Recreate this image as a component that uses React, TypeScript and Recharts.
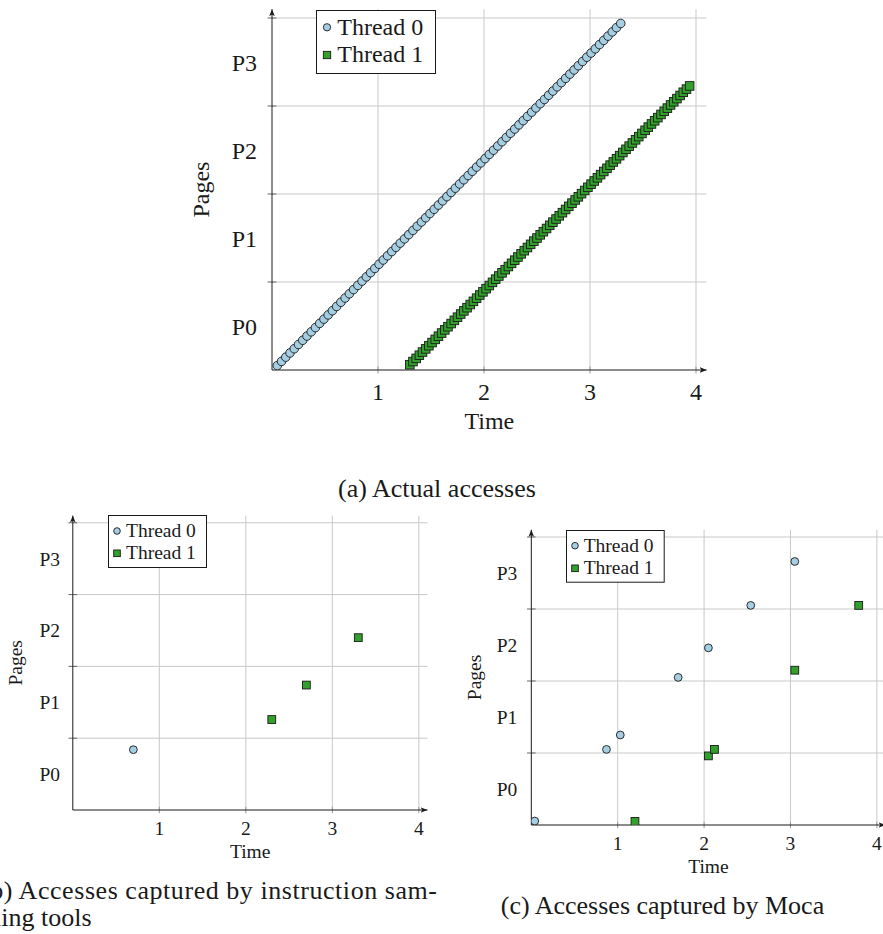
import React from 'react';
import {
  ScatterChart,
  Scatter,
  XAxis,
  YAxis,
  CartesianGrid,
  ReferenceLine,
  Legend,
} from 'recharts';

const FONT = 'Liberation Serif, DejaVu Serif, serif';
const INK = '#1a1a1a';
const BLUE = '#a6cee3';
const GREEN = '#33a02c';

const seriesNames = ['Thread 0', 'Thread 1'];
const pageLabels = ['P0', 'P1', 'P2', 'P3'];
const pageTicks = [0.5, 1.5, 2.5, 3.5];
const timeTicks = [1, 2, 3, 4];
const gridValues = [1, 2, 3, 4];

// (a) actual accesses
const actualT0Time = [
  0.05, 0.09, 0.13, 0.17, 0.21, 0.25, 0.29, 0.33, 0.37, 0.41,
  0.45, 0.49, 0.53, 0.57, 0.61, 0.65, 0.69, 0.73, 0.77, 0.81,
  0.85, 0.89, 0.93, 0.97, 1.01, 1.05, 1.09, 1.13, 1.17, 1.21,
  1.25, 1.29, 1.33, 1.37, 1.41, 1.45, 1.49, 1.53, 1.57, 1.61,
  1.65, 1.69, 1.73, 1.77, 1.81, 1.85, 1.89, 1.93, 1.97, 2.01,
  2.05, 2.09, 2.13, 2.17, 2.21, 2.25, 2.29, 2.33, 2.37, 2.41,
  2.45, 2.49, 2.53, 2.57, 2.61, 2.65, 2.69, 2.73, 2.77, 2.81,
  2.85, 2.89, 2.93, 2.97, 3.01, 3.05, 3.09, 3.13, 3.17, 3.21,
  3.25, 3.29,
];
const actualT0Page = [
  0.05, 0.098, 0.146, 0.194, 0.242, 0.29, 0.338, 0.386, 0.434, 0.482,
  0.53, 0.578, 0.626, 0.674, 0.722, 0.77, 0.818, 0.866, 0.914, 0.962,
  1.01, 1.058, 1.106, 1.154, 1.202, 1.25, 1.298, 1.346, 1.394, 1.442,
  1.49, 1.538, 1.586, 1.634, 1.682, 1.73, 1.778, 1.826, 1.874, 1.922,
  1.97, 2.018, 2.066, 2.114, 2.162, 2.21, 2.258, 2.306, 2.354, 2.402,
  2.45, 2.498, 2.546, 2.594, 2.642, 2.69, 2.738, 2.786, 2.834, 2.882,
  2.93, 2.978, 3.026, 3.074, 3.122, 3.17, 3.218, 3.266, 3.314, 3.362,
  3.41, 3.458, 3.506, 3.554, 3.602, 3.65, 3.698, 3.746, 3.794, 3.842,
  3.89, 3.938,
];
const actualT1Time = [
  1.3, 1.33, 1.36, 1.39, 1.42, 1.45, 1.48, 1.51, 1.54, 1.57,
  1.6, 1.63, 1.66, 1.69, 1.72, 1.75, 1.78, 1.81, 1.84, 1.87,
  1.9, 1.93, 1.96, 1.99, 2.02, 2.05, 2.08, 2.11, 2.14, 2.17,
  2.2, 2.23, 2.26, 2.29, 2.32, 2.35, 2.38, 2.41, 2.44, 2.47,
  2.5, 2.53, 2.56, 2.59, 2.62, 2.65, 2.68, 2.71, 2.74, 2.77,
  2.8, 2.83, 2.86, 2.89, 2.92, 2.95, 2.98, 3.01, 3.04, 3.07,
  3.1, 3.13, 3.16, 3.19, 3.22, 3.25, 3.28, 3.31, 3.34, 3.37,
  3.4, 3.43, 3.46, 3.49, 3.52, 3.55, 3.58, 3.61, 3.64, 3.67,
  3.7, 3.73, 3.76, 3.79, 3.82, 3.85, 3.88, 3.91, 3.94,
];
const actualT1Page = [
  0.06, 0.096, 0.132, 0.168, 0.204, 0.24, 0.276, 0.312, 0.348, 0.384,
  0.42, 0.456, 0.492, 0.528, 0.564, 0.6, 0.636, 0.672, 0.708, 0.744,
  0.78, 0.816, 0.852, 0.888, 0.924, 0.96, 0.996, 1.032, 1.068, 1.104,
  1.14, 1.176, 1.212, 1.248, 1.284, 1.32, 1.356, 1.392, 1.428, 1.464,
  1.5, 1.536, 1.572, 1.608, 1.644, 1.68, 1.716, 1.752, 1.788, 1.824,
  1.86, 1.896, 1.932, 1.968, 2.004, 2.04, 2.076, 2.112, 2.148, 2.184,
  2.22, 2.256, 2.292, 2.328, 2.364, 2.4, 2.436, 2.472, 2.508, 2.544,
  2.58, 2.616, 2.652, 2.688, 2.724, 2.76, 2.796, 2.832, 2.868, 2.904,
  2.94, 2.976, 3.012, 3.048, 3.084, 3.12, 3.156, 3.192, 3.228,
];

// (b) instruction sampling
const samplingT0Time = [0.7];
const samplingT0Page = [0.84];
const samplingT1Time = [2.3, 2.7, 3.3];
const samplingT1Page = [1.26, 1.74, 2.4];

// (c) Moca
const mocaT0Time = [0.04, 0.87, 1.03, 1.7, 2.05, 2.54, 3.05];
const mocaT0Page = [0.055, 1.05, 1.25, 2.05, 2.46, 3.05, 3.66];
const mocaT1Time = [1.2, 2.05, 2.12, 3.05, 3.79];
const mocaT1Page = [0.05, 0.96, 1.05, 2.15, 3.05];

const zip = (xs: number[], ys: number[]) => xs.map((x, i) => ({ x, y: ys[i] }));

type Pt = { x: number; y: number };
type Panel = {
  id: string;
  left: number;
  top: number;
  width: number;
  height: number;
  margin: { top: number; right: number; bottom: number; left: number };
  yAxisWidth: number;
  fs: number;
  r: number;
  xTickMargin: number;
  yTickMargin: number;
  timeDy: number;
  pagesDx: number;
  tickX: number; // half length of y-axis tick marks, in time units
  tickY: number; // half length of x-axis tick marks, in page units
  legend: { left: number; top: number; width: number; height: number; mx: number; rows: number[]; tx: number };
  t0: Pt[];
  t1: Pt[];
};

const panels: Panel[] = [
  {
    id: 'a',
    left: 0, top: 0, width: 883, height: 470,
    margin: { top: 9.2, right: 176.4, bottom: 70, left: 0 },
    yAxisWidth: 272,
    fs: 24, r: 4.3,
    xTickMargin: 6.8, yTickMargin: 9,
    timeDy: 59, pagesDx: 63,
    tickX: 0.042, tickY: 0.04,
    legend: { left: 316, top: 10, width: 120, height: 64, mx: 11, rows: [17.3, 45], tx: 21.3 },
    t0: zip(actualT0Time, actualT0Page),
    t1: zip(actualT1Time, actualT1Page),
  },
  {
    id: 'b',
    left: 0, top: 500, width: 440, height: 380,
    margin: { top: 15.6, right: 12.5, bottom: 40, left: 0 },
    yAxisWidth: 72.8,
    fs: 19.5, r: 3.9,
    xTickMargin: 4.7, yTickMargin: 6.8,
    timeDy: 48, pagesDx: 50.6,
    tickX: 0.05, tickY: 0.045,
    legend: { left: 108, top: 15.3, width: 99, height: 53, mx: 9, rows: [16, 38.3], tx: 18 },
    t0: zip(samplingT0Time, samplingT0Page),
    t1: zip(samplingT1Time, samplingT1Page),
  },
  {
    id: 'c',
    left: 440, top: 500, width: 450, height: 400,
    margin: { top: 29.8, right: 4.5, bottom: 45, left: 0 },
    yAxisWidth: 91.3,
    fs: 19.5, r: 3.9,
    xTickMargin: 4.7, yTickMargin: 8,
    timeDy: 47.5, pagesDx: 50.1,
    tickX: 0.05, tickY: 0.045,
    legend: { left: 126.3, top: 30, width: 98.7, height: 52.7, mx: 9, rows: [15.7, 38.3], tx: 17.7 },
    t0: zip(mocaT0Time, mocaT0Page),
    t1: zip(mocaT1Time, mocaT1Page),
  },
];

const circleShape = (r: number) => (p: any) => (
  <circle cx={p.cx} cy={p.cy} r={r} fill={BLUE} stroke={INK} strokeWidth={0.9} />
);
const squareShape = (r: number) => (p: any) => (
  <rect x={p.cx - r} y={p.cy - r} width={2 * r} height={2 * r} fill={GREEN} stroke={INK} strokeWidth={0.9} />
);

function LegendBox({ cfg }: { cfg: Panel }) {
  const lg = cfg.legend;
  return (
    <svg width={lg.width} height={lg.height} style={{ display: 'block' }}>
      <rect x={0.5} y={0.5} width={lg.width - 1} height={lg.height - 1} fill="#fff" stroke={INK} strokeWidth={1} />
      {seriesNames.map((name, i) => {
        const cy = lg.rows[i];
        return (
          <g key={name}>
            {i === 0 ? circleShape(cfg.r * 0.85)({ cx: lg.mx, cy }) : squareShape(cfg.r * 0.85)({ cx: lg.mx, cy })}
            <text x={lg.tx} y={cy + cfg.fs * 0.31} style={{ fontFamily: FONT }} fontSize={cfg.fs} fill={INK}>
              {name}
            </text>
          </g>
        );
      })}
    </svg>
  );
}

function AccessChart({ cfg }: { cfg: Panel }) {
  const arrow = `arrow-${cfg.id}`;
  const tickStyle = { fill: INK, fontSize: cfg.fs, style: { fontFamily: FONT } };

  const timeLabel = (props: any) => {
    const vb = props.viewBox;
    return (
      <text x={vb.x + vb.width / 2} y={vb.y + cfg.timeDy} textAnchor="middle" style={{ fontFamily: FONT }} fontSize={cfg.fs} fill={INK}>
        Time
      </text>
    );
  };
  const pagesLabel = (props: any) => {
    const vb = props.viewBox;
    const x = vb.x + vb.width - cfg.pagesDx;
    const y = vb.y + vb.height / 2;
    return (
      <text x={x} y={y} transform={`rotate(-90, ${x}, ${y})`} textAnchor="middle" style={{ fontFamily: FONT }} fontSize={cfg.fs} fill={INK}>
        Pages
      </text>
    );
  };

  return (
    <div style={{ position: 'absolute', left: cfg.left, top: cfg.top, fontFamily: FONT }}>
      <ScatterChart width={cfg.width} height={cfg.height} margin={cfg.margin} style={{ fontFamily: FONT }}>
        <defs>
          <marker
            id={arrow}
            viewBox="0 0 10 10"
            refX="10"
            refY="5"
            markerWidth={7}
            markerHeight={7}
            markerUnits="userSpaceOnUse"
            orient="auto-start-reverse"
          >
            <path d="M0,1 L10,5 L0,9 L2.5,5 z" fill={INK} />
          </marker>
        </defs>
        <CartesianGrid stroke="#c9c9c9" strokeWidth={1} horizontalValues={gridValues} verticalValues={gridValues} />
        <XAxis
          type="number"
          dataKey="x"
          domain={[0, 4.1]}
          allowDataOverflow
          ticks={timeTicks}
          height={30}
          tickLine={false}
          tickSize={6}
          tickMargin={cfg.xTickMargin}
          tick={tickStyle}
          axisLine={{ stroke: INK, strokeWidth: 1, markerEnd: `url(#${arrow})` }}
          label={timeLabel}
        />
        <YAxis
          type="number"
          dataKey="y"
          domain={[0, 4.1]}
          allowDataOverflow
          ticks={pageTicks}
          tickFormatter={(v: number) => pageLabels[Math.floor(v)]}
          width={cfg.yAxisWidth}
          tickLine={false}
          tickSize={6}
          tickMargin={cfg.yTickMargin}
          tick={tickStyle}
          axisLine={{ stroke: INK, strokeWidth: 1, markerStart: `url(#${arrow})` }}
          label={pagesLabel}
        />
        {gridValues.map((v) => (
          <ReferenceLine
            key={`yt-${v}`}
            segment={[{ x: -cfg.tickX, y: v }, { x: cfg.tickX, y: v }]}
            stroke="#666"
            strokeWidth={1}
            ifOverflow="visible"
          />
        ))}
        {timeTicks.map((v) => (
          <ReferenceLine
            key={`xt-${v}`}
            segment={[{ x: v, y: -cfg.tickY }, { x: v, y: cfg.tickY }]}
            stroke="#999"
            strokeWidth={1}
            ifOverflow="visible"
          />
        ))}
        <Scatter name={seriesNames[0]} data={cfg.t0} shape={circleShape(cfg.r)} isAnimationActive={false} />
        <Scatter name={seriesNames[1]} data={cfg.t1} shape={squareShape(cfg.r)} isAnimationActive={false} />
        <Legend
          layout="vertical"
          align="center"
          verticalAlign="middle"
          wrapperStyle={{ left: cfg.legend.left, top: cfg.legend.top, width: cfg.legend.width, height: cfg.legend.height }}
          content={() => <LegendBox cfg={cfg} />}
        />
      </ScatterChart>
    </div>
  );
}

export default function App() {
  const capFs = 26;
  return (
    <div style={{ position: 'absolute', left: 0, top: 0, width: 883, height: 934, overflow: 'hidden', background: '#fff', fontFamily: FONT }}>
      {panels.map((p) => (
        <AccessChart key={p.id} cfg={p} />
      ))}
      <svg width={883} height={934} style={{ position: 'absolute', left: 0, top: 0, pointerEvents: 'none' }}>
        <g style={{ fontFamily: FONT }} fontSize={capFs} fill={INK}>
          <text x={437} y={497} textAnchor="middle">(a) Actual accesses</text>
          <text x={-19} y={899} textLength={456} lengthAdjust="spacing">
            (b) Accesses captured by instruction sam-
          </text>
          <text x={-19} y={926}>pling tools</text>
          <text x={662.5} y={914} textAnchor="middle">(c) Accesses captured by Moca</text>
        </g>
      </svg>
    </div>
  );
}
